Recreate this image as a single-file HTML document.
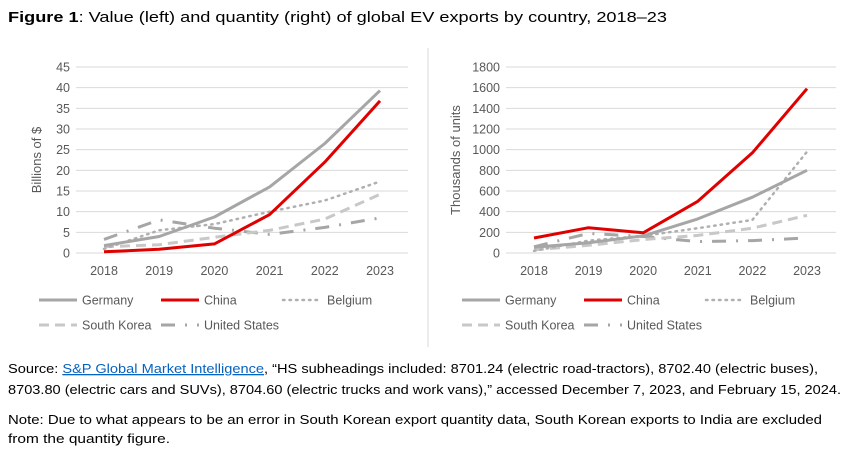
<!DOCTYPE html>
<html><head><meta charset="utf-8"><style>
html,body{margin:0;padding:0;background:#fff;}
svg{display:block;font-family:"Liberation Sans",sans-serif;}
</style></head><body>
<svg id="fig" width="848" height="455" viewBox="0 0 848 455" xmlns="http://www.w3.org/2000/svg">
<text x="8" y="22" font-size="15" fill="#000" textLength="659" lengthAdjust="spacingAndGlyphs"><tspan font-weight="bold">Figure 1</tspan>: Value (left) and quantity (right) of global EV exports by country, 2018–23</text>
<line x1="428" y1="48" x2="428" y2="347" stroke="#d9d9d9" stroke-width="1"/>
<g id="left"></g>
<g id="right"></g>
<text x="8" y="373" font-size="13" fill="#000" textLength="810" lengthAdjust="spacingAndGlyphs">Source: <tspan fill="#0563c1" text-decoration="underline">S&amp;P Global Market Intelligence</tspan>, “HS subheadings included: 8701.24 (electric road-tractors), 8702.40 (electric buses),</text>
<text x="8" y="394" font-size="13" fill="#000" textLength="833" lengthAdjust="spacingAndGlyphs">8703.80 (electric cars and SUVs), 8704.60 (electric trucks and work vans),” accessed December 7, 2023, and February 15, 2024.</text>
<text x="8" y="424" font-size="13" fill="#000" textLength="814" lengthAdjust="spacingAndGlyphs">Note: Due to what appears to be an error in South Korean export quantity data, South Korean exports to India are excluded</text>
<text x="8" y="443" font-size="13" fill="#000" textLength="162" lengthAdjust="spacingAndGlyphs">from the quantity figure.</text>
</svg>
<script>
const years = [2018, 2019, 2020, 2021, 2022, 2023];
const seriesNames = ["Germany", "China", "Belgium", "South Korea", "United States"];
const valueGermany = [1.8, 4, 8.7, 16, 26.5, 39.3];
const valueChina = [0.3, 0.9, 2.2, 9.3, 22, 36.8];
const valueBelgium = [1, 5.5, 7, 10, 12.7, 17.3];
const valueSouthKorea = [1.5, 2, 3.8, 5.5, 8.2, 14.2];
const valueUS = [3.3, 8, 6, 4.5, 6.2, 8.5];
const qtyGermany = [55, 100, 165, 330, 540, 800];
const qtyChina = [145, 245, 195, 500, 970, 1590];
const qtyBelgium = [20, 120, 165, 240, 320, 980];
const qtySouthKorea = [30, 75, 130, 170, 240, 365];
const qtyUS = [60, 190, 160, 110, 120, 145];
const valueTicks = [0, 5, 10, 15, 20, 25, 30, 35, 40, 45];
const qtyTicks = [0, 200, 400, 600, 800, 1000, 1200, 1400, 1600, 1800];

const NS = "http://www.w3.org/2000/svg";
const styles = [
  {stroke:"#a6a6a6", w:3, dash:null, cap:"butt"},
  {stroke:"#e00000", w:3, dash:null, cap:"butt"},
  {stroke:"#b0b0b0", w:2.5, dash:"1.5 5", cap:"round"},
  {stroke:"#c8c8c8", w:3, dash:"10 6", cap:"butt"},
  {stroke:"#a6a6a6", w:3, dash:"14 10 2 10", cap:"butt"}
];
function mk(tag, attrs, parent){const e=document.createElementNS(NS,tag);for(const k in attrs)e.setAttribute(k,attrs[k]);parent.appendChild(e);return e;}

function drawChart(g, cfg){
  const yScale = v => cfg.y0 - (v / cfg.max) * (cfg.y0 - cfg.yTop);
  const xScale = i => cfg.xFirst + i * (cfg.xLast - cfg.xFirst) / (years.length - 1);
  cfg.ticks.forEach(t => {
    const l = mk("line",{x1:cfg.gx1,x2:cfg.gx2,y1:yScale(t),y2:yScale(t),stroke:"#d9d9d9","stroke-width":1},g);
    
    
    const tx = mk("text",{x:cfg.gx1-6,y:yScale(t)+4.5,"text-anchor":"end","font-size":12.5,fill:"#595959"},g);
    tx.textContent = t;
    
    
  });
  years.forEach((yr,i) => {
    const tx = mk("text",{x:xScale(i),y:cfg.y0+22,"text-anchor":"middle","font-size":12.5,fill:"#595959"},g);
    tx.textContent = yr;
    
    
  });
  const yt = mk("text",{transform:`translate(${cfg.ytx},${(cfg.y0+cfg.yTop)/2}) rotate(-90)`,"text-anchor":"middle","font-size":13,fill:"#595959"},g);
  yt.textContent = cfg.yTitle;
  
  
  const order = [4,3,2,0,1];
  order.forEach(si => {
    const s = styles[si];
    const pts = cfg.data[si].map((v,i)=>xScale(i).toFixed(1)+","+yScale(v).toFixed(1)).join(" ");
    const a = {points:pts,fill:"none",stroke:s.stroke,"stroke-width":s.w,"stroke-linecap":s.cap,"stroke-linejoin":"round"};
    if(s.dash)a["stroke-dasharray"]=s.dash;
    const p = mk("polyline",a,g);
    
    
  });
  const leg = [[0,0],[1,122],[2,244],[3,0],[4,122]];
  leg.forEach(([si,dx],k) => {
    const s = styles[si];
    const ly = k<3 ? cfg.legY : cfg.legY+25;
    const x0 = cfg.legX + dx;
    const a = {x1:x0,x2:x0+(si===2?34:38),y1:ly,y2:ly,stroke:s.stroke,"stroke-width":s.w,"stroke-linecap":s.cap};
    if(s.dash)a["stroke-dasharray"]=s.dash;
    const ln = mk("line",a,g);
    
    
    const tx = mk("text",{x:x0+(si===2?44:43),y:ly+4.5,"font-size":12.5,fill:"#595959"},g);
    tx.textContent = seriesNames[si];
    
    
  });
}
drawChart(document.getElementById("left"),{
  y0:253,yTop:67,max:45,ticks:valueTicks,gx1:76,gx2:408,xFirst:104,xLast:380,
  yTitle:"Billions of $",ytx:41,legX:39,legY:300,
  data:[valueGermany,valueChina,valueBelgium,valueSouthKorea,valueUS]
});
drawChart(document.getElementById("right"),{
  y0:253,yTop:67,max:1800,ticks:qtyTicks,gx1:506,gx2:836,xFirst:534,xLast:807,
  yTitle:"Thousands of units",ytx:460,legX:462,legY:300,
  data:[qtyGermany,qtyChina,qtyBelgium,qtySouthKorea,qtyUS]
});
</script>
</body></html>
